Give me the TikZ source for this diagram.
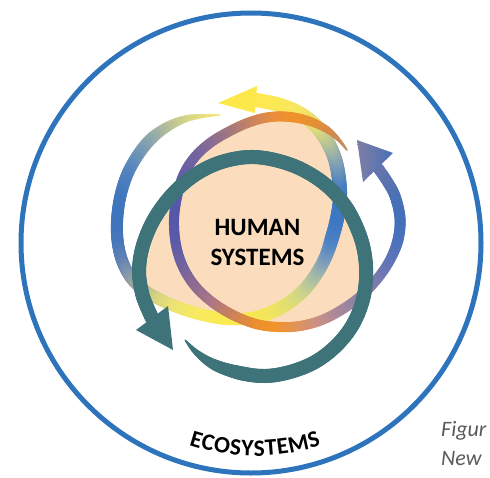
\documentclass[tikz,border=0pt]{standalone}
\usepackage{fontspec}
\newfontfamily\carlito{Carlito}
\usetikzlibrary{calc}

\definecolor{ringblue}{HTML}{2E74BD}
\definecolor{peach}{HTML}{FBDCBC}
\definecolor{tealband}{HTML}{3E7479}
\definecolor{arrowyellow}{HTML}{FDE84C}
\definecolor{figgray}{HTML}{5A5A5A}
\definecolor{bhleft}{HTML}{807EA6}
\definecolor{bhright}{HTML}{4870B6}

\tikzset{
  bigtext/.style={anchor=base, inner sep=0pt, font=\carlito\bfseries\fontsize{25}{30}\selectfont},
  ecoletter/.style={anchor=base, inner ysep=0pt, inner xsep=-1.2pt, font=\carlito\bfseries\fontsize{23.5}{26}\selectfont},
  figtext/.style={anchor=base west, inner sep=0pt, text=figgray, font=\carlito\itshape\fontsize{22}{26}\selectfont}
}

% key points of a band: index/x/y/colour/width
\newcommand\bandpts[2]{%
  \foreach \n/\px/\py/\cc/\w in {#2} {
    \coordinate (#1\n) at (\px,-\py);
    \xglobal\definecolor{#1\n}{HTML}{\cc}
    \expandafter\xdef\csname w#1\n\endcsname{\w}
    \expandafter\xdef\csname x#1\n\endcsname{\px}
    \expandafter\xdef\csname y#1\n\endcsname{-\py}
  }%
}
% smooth band through the key points 0..#2, colour and width blended
\newcommand\drawband[2]{%
  \foreach \i in {1,...,#2} {
    \pgfmathtruncatemacro\kA{\i-1}
    \pgfmathtruncatemacro\kP{max(\i-2,0)}
    \pgfmathtruncatemacro\kN{min(\i+1,#2)}
    \edef\xa{\csname x#1\kA\endcsname}\edef\ya{\csname y#1\kA\endcsname}
    \edef\xb{\csname x#1\i\endcsname}\edef\yb{\csname y#1\i\endcsname}
    \edef\xp{\csname x#1\kP\endcsname}\edef\yp{\csname y#1\kP\endcsname}
    \edef\xn{\csname x#1\kN\endcsname}\edef\yn{\csname y#1\kN\endcsname}
    \pgfmathsetmacro\xc{\xa+(\xb-(\xp))/6}
    \pgfmathsetmacro\yc{\ya+(\yb-(\yp))/6}
    \pgfmathsetmacro\xd{\xb-(\xn-(\xa))/6}
    \pgfmathsetmacro\yd{\yb-(\yn-(\ya))/6}
    \edef\wa{\csname w#1\kA\endcsname}\edef\wb{\csname w#1\i\endcsname}
    \foreach \k in {0,...,9} {
      \pgfmathsetmacro\ta{\k/10}
      \pgfmathsetmacro\tb{(\k+1)/10}
      \pgfmathsetmacro\xs{(1-\ta)^3*(\xa)+3*(1-\ta)^2*\ta*(\xc)+3*(1-\ta)*\ta^2*(\xd)+\ta^3*(\xb)}
      \pgfmathsetmacro\ys{(1-\ta)^3*(\ya)+3*(1-\ta)^2*\ta*(\yc)+3*(1-\ta)*\ta^2*(\yd)+\ta^3*(\yb)}
      \pgfmathsetmacro\xe{(1-\tb)^3*(\xa)+3*(1-\tb)^2*\tb*(\xc)+3*(1-\tb)*\tb^2*(\xd)+\tb^3*(\xb)}
      \pgfmathsetmacro\ye{(1-\tb)^3*(\ya)+3*(1-\tb)^2*\tb*(\yc)+3*(1-\tb)*\tb^2*(\yd)+\tb^3*(\yb)}
      \pgfmathtruncatemacro\pc{round(100-10*(\k+0.5))}
      \pgfmathsetmacro\ww{\wa+(\wb-\wa)*(\k+0.5)/10}
      \draw[line width=\ww pt, line cap=round, #1\kA!\pc!#1\i] (\xs,\ys) -- (\xe,\ye);
    }
  }%
}

\begin{document}
\begin{tikzpicture}[x=1pt,y=1pt]
\useasboundingbox (0,0) rectangle (490,-477);
\clip (0,0) rectangle (490,-477);

% peach core
\fill[peach] plot[smooth cycle] coordinates {
 (270,-117) (290,-117) (309,-121) (322,-130) (331,-146) (337,-165) (341,-185)
 (345,-205) (354,-222) (361,-240) (365,-260) (365,-280) (361,-297) (343,-309)
 (322,-320) (300,-326) (278,-327) (256,-324) (236,-320) (212,-317) (190,-311)
 (170,-303) (152,-294) (144,-280) (141,-262) (145,-243) (154,-222) (168,-200)
 (184,-178) (196,-157) (212,-142) (231,-130) (250,-122)};

% yellow / blue band
\bandpts{yc}{0/220/115/F4E878/1, 1/203/116/EAE27C/4, 2/185/119/D8D688/7,
 3/167/127/BCC396/10, 4/151/139/98ADA8/12, 5/138/155/7598B6/12,
 6/127/175/5484BE/12, 7/120/198/4278BE/12, 8/117/222/3E74BC/12,
 9/118/244/4476BA/12, 10/123/263/5F82B4/12, 11/132/279/8A98A8/12,
 12/145/291/B4B896/12, 13/161/300/D8D482/12, 14/180/308/EEE472/12,
 15/203/315/F8EA60/12, 16/228/319/FBEA50/12, 17/252/318/FAE94E/12,
 18/272/312/F2E65A/13, 19/290/302/E4E06E/13, 20/305/289/CDD48A/13,
 21/317/273/A9BCA6/13, 22/326/256/7A9CBC/13, 23/332/238/4F84C4/14,
 24/337/219/3E78C2/14, 25/340/199/3C76C0/14, 26/339/179/4C80C0/14,
 27/335/159/7E9EB6/14, 28/327/141/B0C09A/14, 29/315/125/DCDA7C/14,
 30/299/113/F2E468/14, 31/280/105/FAE75A/14, 32/257/100/FDE94E/14}
\drawband{yc}{32}
\fill[arrowyellow] (257,-86) -- (218,-103) -- (255,-113) -- cycle;

% orange / purple band
\bandpts{ob}{0/347/150/C28B6A/1.5, 1/338/139/C98A5A/4, 2/326/129/D68A48/7,
 3/309/121/E88F34/9, 4/290/117/F0922A/10, 5/270/117/EA8E3A/10,
 6/250/122/CE855C/10, 7/230/131/AA7A7A/10, 8/210/143/8C6E92/10,
 9/194/158/7464A0/10, 10/183/176/6660A6/10, 11/177/197/5A5AA8/10,
 12/174/220/5656AA/10, 13/176/245/5C5AA8/10, 14/183/267/6E62A0/10,
 15/195/286/8A6A92/10, 16/212/302/A87488/10, 17/233/315/C8805E/10,
 18/256/324/E88D34/10, 19/278/327/F39427/10, 20/300/326/E2935A/10,
 21/322/320/C89088/10, 22/343/309/A6879C/10, 23/362/295/8E80A6/10,
 24/378/278/7A7AAE/10, 25/390/260/6475B6/10, 26/398/240/4E72BC/11,
 27/400/218/4370BA/11, 28/395/196/4870B6/11, 29/387/181/5872B0/11,
 30/378/168/6474AC/11}
\drawband{ob}{30}
\shade[left color=bhleft,right color=bhright] (363,-182) -- (357,-140) -- (393,-153) -- cycle;

% teal band
\bandpts{tl}{0/185/340/3E7479/1, 1/197/353/3E7479/6, 2/215/365/3E7479/11,
 3/240/373/3E7479/14, 4/265/376/3E7479/14, 5/290/372/3E7479/14,
 6/315/362/3E7479/14, 7/336/346/3E7479/14, 8/352/326/3E7479/14,
 9/362/303/3E7479/14, 10/366/280/3E7479/14, 11/365/256/3E7479/14,
 12/359/233/3E7479/14, 13/346/207/3E7479/14, 14/326/185/3E7479/14,
 15/301/169/3E7479/14, 16/275/160/3E7479/14, 17/250/157/3E7479/14,
 18/225/161/3E7479/14, 19/203/170/3E7479/14, 20/183/184/3E7479/14,
 21/165/203/3E7479/14, 22/151/225/3E7479/14, 23/142/249/3E7479/14,
 24/139/272/3E7479/14, 25/142/293/3E7479/14, 26/147/307/3E7479/14,
 27/152/318/3E7479/14}
\drawband{tl}{27}
\fill[tealband] (136,-330) -- (173,-350) -- (168,-306) -- cycle;

% ecosystem ring
\node[circle, draw=ringblue, line width=5pt, minimum size=460pt, inner sep=0pt] (eco) at (251,-243) {};

% texts
\node[bigtext] (human) at (257.5,-235) {HUMAN};
\node[bigtext] (systems) at (257.5,-265) {SYSTEMS};

\coordinate (arcc) at (255,-243);
\foreach \ch/\a [count=\q] in {E/-16.54, C/-13.16, O/-9.19, S/-5.40, Y/-2.10,
    S/1.20, T/4.43, E/7.70, M/12.17, S/16.59} {
  \node[ecoletter, rotate=\a] (ecol\q) at ($(arcc)+(270+\a:213)$) {\ch};
}

\node[figtext] (fig1) at (441,-436) {Figur};
\node[figtext] (fig2) at (441,-465) {New};
\end{tikzpicture}
\end{document}
